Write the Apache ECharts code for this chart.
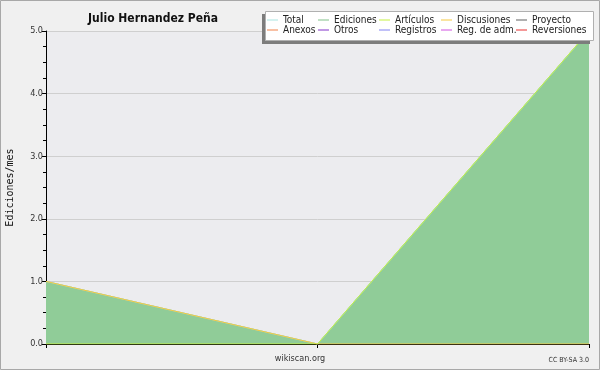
<!DOCTYPE html>
<html><head><meta charset="utf-8">
<script src="https://cdn.jsdelivr.net/npm/echarts@6/dist/echarts.min.js"></script>
<style>html,body{margin:0;padding:0;background:#f0f0f0}#c{width:600px;height:370px}</style>
</head><body><div id="c"></div>
<script>
const months = ['m1','m2','m3'];
const total = [1,0,5];
const ediciones = [1,0,5];
const articulos = [0,0,5];
const discusiones = [1,0,0];
const legendNames = [['Total','Anexos'],['Ediciones','Otros'],['Artículos','Registros'],['Discusiones','Reg. de adm.'],['Proyecto','Reversiones']];
const legendLeft = [267,318,379,441,516];
const colors = {'Total':'#a8e4e0','Ediciones':'#80c088','Artículos':'#c4f040','Discusiones':'#f4c840','Proyecto':'#606060',
 'Anexos':'#f08048','Otros':'#8030c8','Registros':'#8080f0','Reg. de adm.':'#d050e0','Reversiones':'#e83030'};
const chart = echarts.init(document.getElementById('c'));
const FONT = 'DejaVu Sans Condensed';
function line(name, data, extra){
  return Object.assign({name, type:'line', data, symbol:'none', lineStyle:{width:1,color:colors[name]}, itemStyle:{color:colors[name]}, z:3}, extra||{});
}
const series = [
  line('Total', total),
  line('Ediciones', ediciones, {areaStyle:{color:'#90cc98',opacity:1}, z:2}),
  line('Discusiones', discusiones),
  line('Artículos', articulos),
];
['Proyecto','Anexos','Otros','Registros','Reg. de adm.','Reversiones'].forEach(n=>series.push(line(n, [])));
chart.setOption({
  animation:false,
  backgroundColor:'#f0f0f0',
  title:{text:'Julio Hernandez Peña', left:148, top:8, textAlign:'center', textStyle:{fontFamily:FONT,fontSize:12,fontWeight:'bold',color:'#111'}},
  graphic:[
    {type:'rect', shape:{x:0.5,y:0.5,width:599,height:369}, style:{fill:'none',stroke:'#a8a8a8',lineWidth:1}, z:0},
    {type:'rect', shape:{x:262,y:14,width:328,height:30}, style:{fill:'#7c7c7c'}, z:10},
    {type:'rect', shape:{x:265.5,y:11.5,width:328,height:29}, style:{fill:'#ffffff',stroke:'#b0b0b0',lineWidth:1}, z:11},
    {type:'text', x:300, y:354, style:{text:'wikiscan.org', fontFamily:FONT, fontSize:9, fill:'#333', align:'center'}, z:12},
    {type:'text', x:589, y:357, style:{text:'CC BY-SA 3.0', fontFamily:FONT, fontSize:7, fill:'#333', align:'right'}, z:12}
  ],
  legend: legendNames.map((names,i)=>({
    data:names, orient:'vertical', left:legendLeft[i], top:15, itemGap:0, itemWidth:11, itemHeight:1,
    icon:'rect', padding:0, selectedMode:false, z:20,
    textStyle:{fontFamily:FONT,fontSize:10,color:'#222',lineHeight:10},
  })),
  grid:{left:46,right:11,top:31,bottom:26,show:true,backgroundColor:'#ececef',borderWidth:0,outerBoundsMode:'none',containLabel:false},
  xAxis:{type:'category', data:months, boundaryGap:false,
    axisLine:{lineStyle:{color:'#000',width:1}}, axisTick:{show:true,length:4,lineStyle:{color:'#000'}},
    axisLabel:{show:false}, splitLine:{show:false}},
  yAxis:{type:'value', min:0, max:5, interval:1,
    name:'Ediciones/mes', nameLocation:'middle', nameGap:31, nameRotate:90,
    nameTextStyle:{fontFamily:'DejaVu Sans Mono',fontSize:10,color:'#111'},
    axisLine:{show:true,lineStyle:{color:'#000',width:1}},
    axisTick:{show:true,length:4,lineStyle:{color:'#000'}},
    minorTick:{show:true,splitNumber:4,length:3,lineStyle:{color:'#000'}},
    axisLabel:{fontFamily:FONT,fontSize:9,color:'#333',margin:3,formatter:v=>v.toFixed(1)},
    splitLine:{show:true,lineStyle:{color:'#cfcfcf',width:1}}},
  series
});
</script></body></html>
